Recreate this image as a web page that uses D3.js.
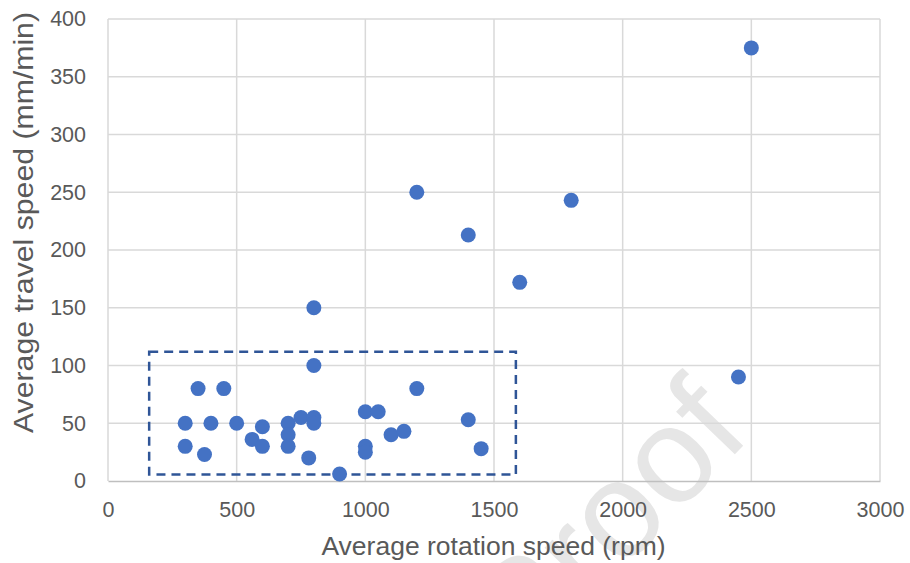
<!DOCTYPE html>
<html>
<head>
<meta charset="utf-8">
<script src="https://cdn.jsdelivr.net/npm/d3@7"></script>
<style>
  body { margin: 0; background: #fff; }
  svg { display: block; font-family: "Liberation Sans", Arial, sans-serif; }
</style>
</head>
<body>
<div id="container"></div>
<script>
/* CONSTANTS AND GLOBALS */
const width = 910,
  height = 563,
  margin = { top: 19, bottom: 82, left: 108, right: 30 };

// data
const rotationSpeed = [800, 350, 450, 1200, 300, 400, 500, 600, 700, 750, 800, 800, 700, 560, 600, 700, 300, 375, 780, 900,
  1000, 1050, 1100, 1150, 1000, 1000, 1400, 1450, 1200, 1400, 1800, 1600, 800, 2500, 2450];
const travelSpeed = [100, 80, 80, 80, 50, 50, 50, 47, 50, 55, 55, 50, 40, 36, 30, 30, 30, 23, 20, 6,
  60, 60, 40, 43, 30, 25, 53, 28, 250, 213, 243, 172, 150, 375, 90];

const xTicks = [0, 500, 1000, 1500, 2000, 2500, 3000];
const yTicks = [0, 50, 100, 150, 200, 250, 300, 350, 400];

// highlighted region (dashed box) in data units: [x0, x1], [y0, y1]
const boxX = [160, 1585];
const boxY = [5.6, 112];

const data = rotationSpeed.map((d, i) => ({ rpm: d, speed: travelSpeed[i] }));

/* SCALES */
const xScale = d3.scaleLinear()
  .domain([0, 3000])
  .range([margin.left, width - margin.right]);

const yScale = d3.scaleLinear()
  .domain([0, 400])
  .range([height - margin.bottom, margin.top]);

/* HTML ELEMENTS */
const svg = d3.select("#container")
  .append("svg")
  .attr("width", width)
  .attr("height", height);

// watermark
svg.append("text")
  .attr("transform", "translate(606,520) rotate(-46)")
  .attr("text-anchor", "middle")
  .attr("dominant-baseline", "central")
  .attr("font-size", 136)
  .attr("fill", "#e6e6e6")
  .text("Proof");

// gridlines
svg.append("g")
  .selectAll("line")
  .data(yTicks.slice(1))
  .join("line")
  .attr("x1", margin.left)
  .attr("x2", width - margin.right)
  .attr("y1", d => yScale(d))
  .attr("y2", d => yScale(d))
  .attr("stroke", "#d9d9d9")
  .attr("stroke-width", 1.5);

svg.append("g")
  .selectAll("line")
  .data(xTicks)
  .join("line")
  .attr("x1", d => xScale(d))
  .attr("x2", d => xScale(d))
  .attr("y1", margin.top)
  .attr("y2", height - margin.bottom)
  .attr("stroke", "#d9d9d9")
  .attr("stroke-width", 1.5);

// x axis
const xAxis = d3.axisBottom(xScale).tickValues(xTicks).tickSize(0).tickPadding(21).tickFormat(d3.format("d"));
const gx = svg.append("g")
  .attr("transform", `translate(0, ${height - margin.bottom})`)
  .call(xAxis)
  .attr("font-family", null);
gx.select(".domain").attr("stroke", "#bfbfbf").attr("stroke-width", 1.5);
gx.selectAll("text").attr("font-size", 21.5).attr("fill", "#595959");

// y axis
const yAxis = d3.axisLeft(yScale).tickValues(yTicks).tickSize(0).tickPadding(22).tickFormat(d3.format("d"));
const gy = svg.append("g")
  .attr("transform", `translate(${margin.left}, 0)`)
  .call(yAxis)
  .attr("font-family", null);
gy.select(".domain").remove();
gy.selectAll("text").attr("font-size", 21.5).attr("fill", "#595959");

// dashed box
svg.append("rect")
  .attr("x", xScale(boxX[0]))
  .attr("y", yScale(boxY[1]))
  .attr("width", xScale(boxX[1]) - xScale(boxX[0]))
  .attr("height", yScale(boxY[0]) - yScale(boxY[1]))
  .attr("fill", "none")
  .attr("stroke", "#2f5597")
  .attr("stroke-width", 2.5)
  .attr("stroke-dasharray", "9,6");

// circles
svg.selectAll(".dot")
  .data(data)
  .join("circle")
  .attr("class", "dot")
  .attr("cx", d => xScale(d.rpm))
  .attr("cy", d => yScale(d.speed))
  .attr("r", 7.5)
  .attr("fill", "#4472c4");

// axis titles
svg.append("text")
  .attr("x", 493.5)
  .attr("y", 555)
  .attr("text-anchor", "middle")
  .attr("font-size", 26.5)
  .attr("fill", "#595959")
  .text("Average rotation speed (rpm)");

svg.append("text")
  .attr("transform", "translate(33, 433) rotate(-90)")
  .attr("text-anchor", "start")
  .attr("font-size", 27)
  .attr("textLength", 421)
  .attr("lengthAdjust", "spacingAndGlyphs")
  .attr("fill", "#595959")
  .text("Average travel speed (mm/min)");
</script>
</body>
</html>
